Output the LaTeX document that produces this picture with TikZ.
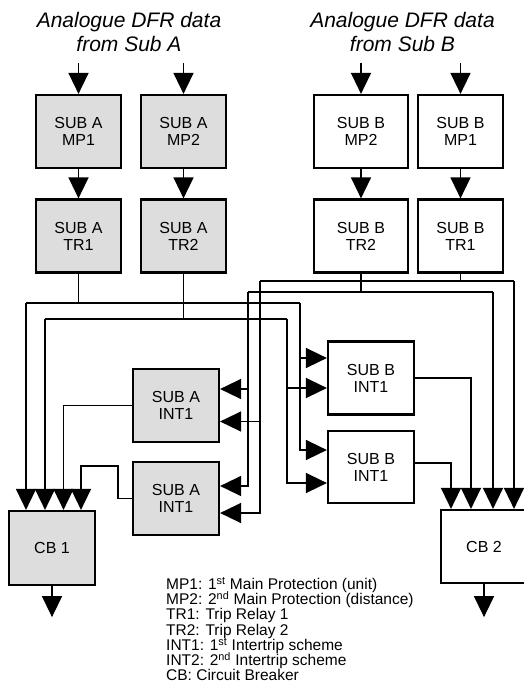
\documentclass[tikz,border=0pt]{standalone}
\usepackage{fontspec}
\setmainfont{Liberation Sans}
\usepackage{xcolor}
\usetikzlibrary{arrows.meta,calc}
\definecolor{boxgray}{HTML}{DDDDDD}
\newcommand{\legendfont}{\fontsize{15.5}{15.2}\selectfont\setlength{\lineskiplimit}{-20pt}}

\begin{document}
\begin{tikzpicture}[x=1pt,y=-1pt,
  box/.style={draw,line width=2.2pt,minimum width=85pt,minimum height=73pt,
    inner sep=0pt,align=center,font=\fontsize{16}{17}\selectfont},
  subA/.style={box,fill=boxgray},
  subB/.style={box,fill=white},
  wire/.style={line width=1.5pt},
  feed/.style={wire,-{Triangle[length=21pt,width=20pt]}}]
  \useasboundingbox (0,0) rectangle (524,683);
  \clip (0,0) rectangle (524,683);

  % sources
  \node[font=\fontsize{21}{24}\selectfont\itshape,align=center] (srcA) at (129,31.5) {Analogue DFR data\\from Sub A};
  \node[font=\fontsize{21}{24}\selectfont\itshape,align=center] (srcB) at (402.5,31.5) {Analogue DFR data\\from Sub B};

  % protection and trip relays
  \node[subA] (amp1) at (78.5,131.5) {SUB A\\MP1};
  \node[subA] (amp2) at (183.5,131.5) {SUB A\\MP2};
  \node[subA] (atr1) at (78.5,236) {SUB A\\TR1};
  \node[subA] (atr2) at (183.5,236) {SUB A\\TR2};
  \node[subB,minimum width=94pt] (bmp2) at (361,131.5) {SUB B\\MP2};
  \node[subB] (bmp1) at (460.5,131.5) {SUB B\\MP1};
  \node[subB,minimum width=94pt] (btr2) at (361,236) {SUB B\\TR2};
  \node[subB] (btr1) at (460.5,236) {SUB B\\TR1};

  % intertrips and breakers
  \node[subA,minimum width=86pt] (aint1) at (176,405.5) {SUB A\\INT1};
  \node[subA,minimum width=86pt] (aint2) at (176,498.5) {SUB A\\INT1};
  \node[subB,minimum width=86pt] (bint1) at (371,378) {SUB B\\INT1};
  \node[subB,minimum width=86pt,minimum height=72pt] (bint2) at (371,467) {SUB B\\INT1};
  \node[subA,minimum width=86pt,minimum height=74pt] (cb1) at (52,548) {CB 1};
  \node[subB,minimum width=86pt] (cb2) at (484,546.5) {CB 2};

  \foreach \n in {amp1,amp2,bmp2,bmp1}
    \draw[feed] ($(\n.north)+(0,-31)$) -- (\n.north);
  \foreach \a/\b in {amp1/atr1,amp2/atr2,bmp2/btr2,bmp1/btr1}
    \draw[feed] (\a) -- (\b);

  % inputs of the intertrip boxes
  \coordinate (bi1) at ($(bint1.west)+(0,-20)$);
  \coordinate (bi2) at ($(bint1.west)+(0,10)$);
  \coordinate (bi3) at ($(bint2.west)+(0,-17)$);
  \coordinate (bi4) at ($(bint2.west)+(0,16)$);
  \coordinate (ai1) at ($(aint1.east)+(0,-16.5)$);
  \coordinate (ai2) at ($(aint1.east)+(0,16)$);
  \coordinate (ai3) at ($(aint2.east)+(0,-12.5)$);
  \coordinate (ai4) at ($(aint2.east)+(0,14.5)$);

  % Sub A trip relays
  \coordinate (a1l) at (26,303);
  \coordinate (a1r) at (300,303);
  \coordinate (a2l) at (45,319);
  \coordinate (a2r) at (287,319);
  \draw[wire] (atr1.south) -- (atr1.south |- a1l);
  \draw[wire] (a1l) -- (a1r);
  \draw[feed] (a1l) -- (a1l |- cb1.north);
  \draw[feed] (a1r) |- (bi3);
  \draw[feed] (a1r |- bi1) -- (bi1);
  \draw[wire] (atr2.south) -- (atr2.south |- a2l);
  \draw[wire] (a2l) -- (a2r);
  \draw[feed] (a2l) -- (a2l |- cb1.north);
  \draw[feed] (a2r) |- (bi4);
  \draw[feed] (a2r |- bi2) -- (bi2);

  % Sub B trip relays
  \coordinate (b1l) at (260,281);
  \coordinate (b1r) at (514,281);
  \coordinate (b2l) at (248,292);
  \coordinate (b2r) at (493,292);
  \draw[wire] (btr2.south) -- (btr2.south |- b2l);
  \draw[wire] (b2l) -- (b2r);
  \draw[feed] (b2r) -- (b2r |- cb2.north);
  \draw[feed] (b2l) |- (ai3);
  \draw[feed] (b2l |- ai1) -- (ai1);
  \draw[wire] (btr1.south) -- (btr1.south |- b1l);
  \draw[wire] (b1l) -- (b1r);
  \draw[feed] (b1r) -- (b1r |- cb2.north);
  \draw[feed] (b1l) |- (ai4);
  \draw[feed] (b1l |- ai2) -- (ai2);

  % intertrip outputs
  \draw[feed] (aint1.west) -| ($(cb1.north)+(11.5,0)$);
  \draw[feed] (aint2.west) -- ++(-14,0) -- ++(0,-32.5) -| ($(cb1.north)+(29,0)$);
  \draw[feed] (bint1.east) -| ($(cb2.north)+(-13,0)$);
  \draw[feed] ($(bint2.east)+(0,-4)$) -| ($(cb2.north)+(-33,0)$);

  % breaker outputs
  \coordinate (cb1out) at ($(cb1.south)+(0,31)$);
  \coordinate (cb2out) at ($(cb2.south)+(0,33)$);
  \draw[feed] (cb1.south) -- (cb1out);
  \draw[feed] (cb2.south) -- (cb2out);

  \node[anchor=north west,align=left,inner sep=0pt,font=\legendfont] (legend) at (166,577)
    {MP1: 1\textsuperscript{st} Main Protection (unit)\\
     MP2: 2\textsuperscript{nd} Main Protection (distance)\\
     TR1: Trip Relay 1\\
     TR2: Trip Relay 2\\
     INT1: 1\textsuperscript{st} Intertrip scheme\\
     INT2: 2\textsuperscript{nd} Intertrip scheme\\
     CB: Circuit Breaker};
\end{tikzpicture}
\end{document}
